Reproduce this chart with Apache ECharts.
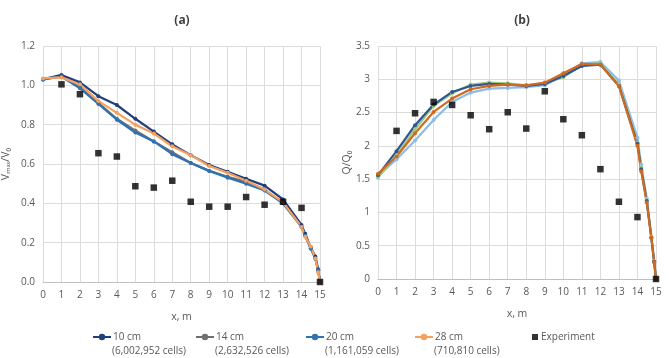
<!DOCTYPE html>
<html>
<head>
<meta charset="utf-8">
<script src="https://cdn.jsdelivr.net/npm/echarts@6/dist/echarts.min.js"></script>
<style>
  html, body { margin: 0; padding: 0; background: #fff; }
  #chart { width: 669px; height: 358px; }
</style>
</head>
<body>
<div id="chart"></div>
<script>
// x positions of the CFD points (m)
const xs = [0, 1, 2, 3, 4, 5, 6, 7, 8, 9, 10, 11, 12, 13, 14, 14.2, 14.5, 14.75, 14.9, 15];
const xsExp = [1, 2, 3, 4, 5, 6, 7, 8, 9, 10, 11, 12, 13, 14, 15];

const meshNames = ["10 cm", "14 cm", "20 cm", "28 cm"];
const meshCells = ["(6,002,952 cells)", "(2,632,526 cells)", "(1,161,059 cells)", "(710,810 cells)"];

// (a) Vmax/V0
const vel10 = [1.03, 1.053, 1.015, 0.945, 0.90, 0.83, 0.765, 0.70, 0.645, 0.595, 0.56, 0.525, 0.49, 0.42, 0.29, 0.245, 0.175, 0.13, 0.065, 0.0];
const vel14 = [1.03, 1.045, 0.99, 0.91, 0.83, 0.77, 0.715, 0.66, 0.605, 0.565, 0.535, 0.51, 0.47, 0.40, 0.28, 0.235, 0.17, 0.12, 0.06, 0.0];
const vel20 = [1.03, 1.045, 0.985, 0.905, 0.825, 0.76, 0.715, 0.65, 0.605, 0.565, 0.53, 0.50, 0.465, 0.40, 0.28, 0.235, 0.17, 0.12, 0.06, 0.0];
const vel28 = [1.035, 1.04, 1.005, 0.92, 0.86, 0.80, 0.755, 0.69, 0.645, 0.59, 0.555, 0.515, 0.47, 0.405, 0.28, 0.23, 0.18, 0.12, 0.05, 0.0];
const velExp = [1.005, 0.955, 0.655, 0.638, 0.487, 0.48, 0.515, 0.408, 0.383, 0.383, 0.432, 0.393, 0.408, 0.377, 0.0];

// (b) Q/Q0
const q10 = [1.56, 1.92, 2.31, 2.62, 2.81, 2.90, 2.93, 2.92, 2.90, 2.93, 3.05, 3.20, 3.22, 2.90, 2.03, 1.65, 1.17, 0.62, 0.26, 0.0];
const q14 = [1.52, 1.86, 2.25, 2.60, 2.79, 2.92, 2.95, 2.94, 2.91, 2.94, 3.03, 3.22, 3.24, 2.92, 2.05, 1.68, 1.18, 0.62, 0.26, 0.0];
const q20 = [1.55, 1.80, 2.08, 2.39, 2.66, 2.80, 2.86, 2.87, 2.88, 2.91, 3.06, 3.24, 3.26, 2.98, 2.12, 1.72, 1.21, 0.63, 0.27, 0.0];
const q28 = [1.58, 1.84, 2.19, 2.51, 2.71, 2.85, 2.90, 2.92, 2.91, 2.95, 3.09, 3.23, 3.22, 2.90, 2.00, 1.62, 1.15, 0.62, 0.25, 0.0];
const qExp = [2.225, 2.49, 2.66, 2.615, 2.46, 2.25, 2.505, 2.26, 2.82, 2.40, 2.16, 1.65, 1.16, 0.93, 0.0];

const xTicks = [0, 15, 1];

const colorsA = ["#203f7c", "#6f6f6f", "#2e72b4", "#f4a15f"];
const colorsB = ["#2f5597", "#9ccc7c", "#8fbce6", "#cf6a1e"];

const FONT = "Open Sans";
const TXT = "#595959";

const pairs = (x, y) => x.map((v, i) => [v, y[i]]);

const lineSeries = (name, data, color, axisIdx) => ({
   type: "line",
   name,
   xAxisIndex: axisIdx,
   yAxisIndex: axisIdx,
   data: pairs(xs, data),
   symbol: "circle",
   symbolSize: 4,
   lineStyle: { width: 2.2, color },
   itemStyle: { color },
   animation: false,
});

const expSeries = (data, axisIdx) => ({
   type: "scatter",
   name: "Experiment",
   xAxisIndex: axisIdx,
   yAxisIndex: axisIdx,
   data: pairs(xsExp, data),
   symbol: "rect",
   symbolSize: 6.5,
   itemStyle: { color: "#000" },
   z: 5,
   clip: false,
   animation: false,
});

const xAxisCommon = (gridIndex) => ({
   type: "value",
   gridIndex,
   min: xTicks[0],
   max: xTicks[1],
   interval: xTicks[2],
   name: "x, m",
   nameLocation: "middle",
   nameGap: 30,
   nameTextStyle: { fontFamily: FONT, fontSize: 10.5, color: TXT },
   axisLine: { lineStyle: { color: "#bfbfbf" } },
   axisTick: { show: false },
   axisLabel: { fontFamily: FONT, fontSize: 10, color: TXT, margin: 8 },
   splitLine: { lineStyle: { color: "#dcdcdc" } },
});

const chart = echarts.init(document.getElementById("chart"));

const legendPos = [92, 195, 305, 414];
const legends = meshNames.map((n, i) => ({
   data: [n],
   left: legendPos[i],
   top: 332,
   padding: 0,
   itemWidth: 18,
   itemHeight: 8,
   itemGap: 3,
   textStyle: { fontFamily: FONT, fontSize: 10, color: TXT, padding: [0, 0, 0, -3] },
}));
legends.push({
   data: [{ name: "Experiment", icon: "rect" }],
   left: 532,
   top: 332,
   padding: 0,
   itemWidth: 6,
   itemHeight: 6,
   textStyle: { fontFamily: FONT, fontSize: 10, color: TXT, padding: [0, 0, 0, -2] },
});

const option = {
   backgroundColor: "#fff",
   title: [
      { text: "(a)", left: 177, top: 10, textAlign: "center", textStyle: { fontFamily: FONT, fontSize: 12, fontWeight: "bold", color: "#404040" } },
      { text: "(b)", left: 517, top: 10, textAlign: "center", textStyle: { fontFamily: FONT, fontSize: 12, fontWeight: "bold", color: "#404040" } },
   ],
   legend: legends,
   graphic: meshCells.map((c, i) => ({
      type: "text",
      left: legendPos[i] + 20,
      top: 346,
      style: { text: c, fontFamily: FONT, fontSize: 10, fill: TXT },
   })),
   grid: [
      { left: 41, top: 46, width: 279, height: 236 },
      { left: 378, top: 46, width: 278, height: 233 },
   ],
   xAxis: [xAxisCommon(0), xAxisCommon(1)],
   yAxis: [
      {
         type: "value",
         gridIndex: 0,
         min: 0,
         max: 1.2,
         interval: 0.2,
         name: "V\u2098\u2090\u2093/V\u2080",
         nameLocation: "middle",
         nameGap: 31,
         nameTextStyle: { fontFamily: FONT, fontSize: 10.5, color: TXT },
         axisLine: { show: false },
         axisTick: { show: false },
         axisLabel: { fontFamily: FONT, fontSize: 10, color: TXT, formatter: (v) => v.toFixed(1) },
         splitLine: { lineStyle: { color: "#dcdcdc" } },
      },
      {
         type: "value",
         gridIndex: 1,
         min: 0,
         max: 3.5,
         interval: 0.5,
         name: "Q/Q\u2080",
         nameLocation: "middle",
         nameGap: 25,
         nameTextStyle: { fontFamily: FONT, fontSize: 10.5, color: TXT },
         axisLine: { show: false },
         axisTick: { show: false },
         axisLabel: { fontFamily: FONT, fontSize: 10, color: TXT },
         splitLine: { lineStyle: { color: "#dcdcdc" } },
      },
   ],
   series: [
      lineSeries(meshNames[0], vel10, colorsA[0], 0),
      lineSeries(meshNames[1], vel14, colorsA[1], 0),
      lineSeries(meshNames[2], vel20, colorsA[2], 0),
      lineSeries(meshNames[3], vel28, colorsA[3], 0),
      expSeries(velExp, 0),
      lineSeries("b " + meshNames[2], q20, colorsB[2], 1),
      lineSeries("b " + meshNames[1], q14, colorsB[1], 1),
      lineSeries("b " + meshNames[0], q10, colorsB[0], 1),
      lineSeries("b " + meshNames[3], q28, colorsB[3], 1),
      expSeries(qExp, 1),
   ],
};
chart.setOption(option);
</script>
</body>
</html>
